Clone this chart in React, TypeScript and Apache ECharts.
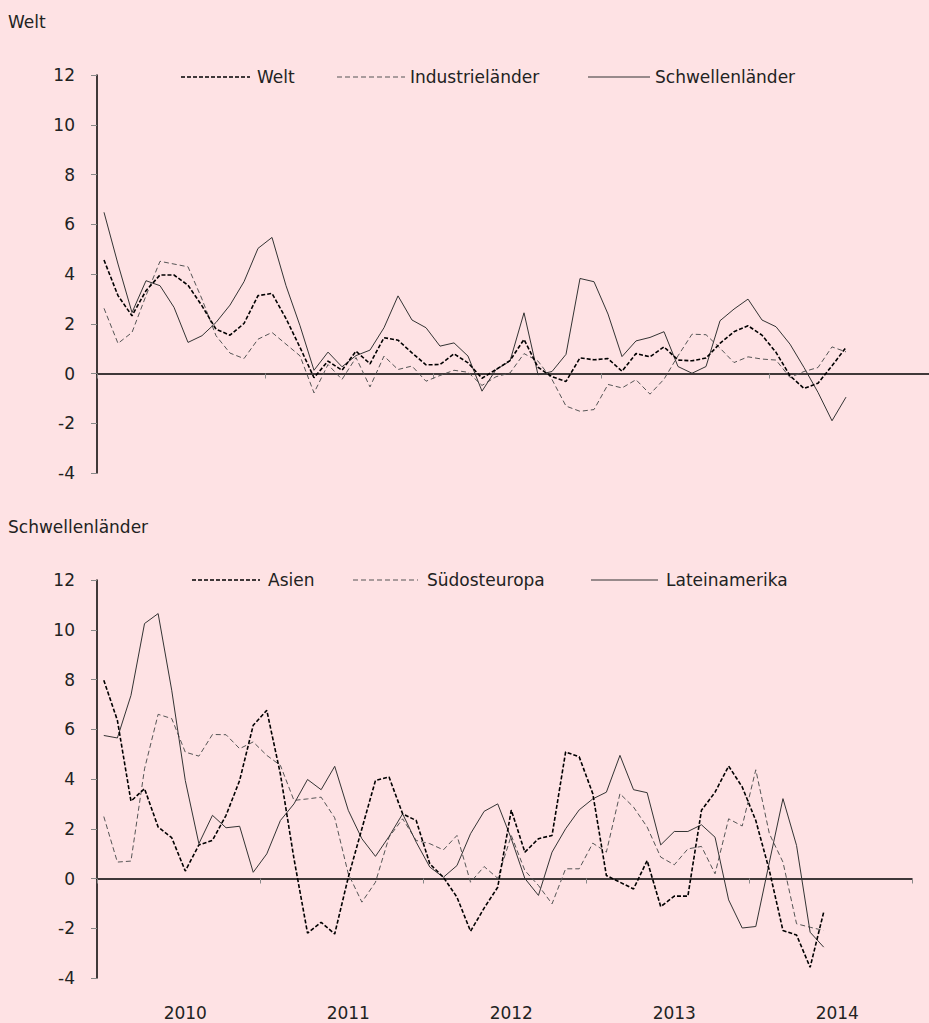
import React, { useEffect, useRef } from "react";
import * as echarts from "echarts";

const years = ["2010", "2011", "2012", "2013", "2014"];
const monthNames = ["01", "02", "03", "04", "05", "06", "07", "08", "09", "10", "11", "12"];
const months: string[] = years.flatMap((y) => monthNames.map((m) => `${y}-${m}`));

const yTicks = { min: -4, max: 12, step: 2 };

// Panel 1: Welt
const welt = [
  4.56, 3.13, 2.32, 3.33, 3.96, 3.96, 3.55, 2.72, 1.78, 1.54, 2.01, 3.13,
  3.22, 2.21, 1.05, -0.17, 0.5, 0.13, 0.9, 0.39, 1.44, 1.34, 0.83, 0.35,
  0.36, 0.79, 0.43, -0.19, 0.16, 0.52, 1.37, 0.25, -0.13, -0.32, 0.63, 0.55,
  0.6, 0.09, 0.8, 0.67, 1.07, 0.54, 0.51, 0.62, 1.21, 1.68, 1.92, 1.54,
  0.85, -0.09, -0.6, -0.39, 0.31, 1.05,
];
const industrielaender = [
  2.62, 1.21, 1.65, 3.13, 4.51, 4.4, 4.29, 2.99, 1.52, 0.82, 0.6, 1.38,
  1.65, 1.18, 0.71, -0.78, 0.36, -0.24, 0.64, -0.54, 0.7, 0.16, 0.3, -0.31,
  -0.08, 0.13, 0.05, -0.48, -0.13, 0.02, 0.8, 0.5, -0.24, -1.31, -1.52, -1.45,
  -0.44, -0.58, -0.25, -0.83, -0.23, 0.71, 1.58, 1.56, 1.02, 0.44, 0.67, 0.58,
  0.54, -0.16, 0.08, 0.24, 1.07, 0.87,
];
const schwellenlaender = [
  6.48, 4.4, 2.45, 3.73, 3.53, 2.66, 1.25, 1.52, 2.05, 2.75, 3.69, 5.03,
  5.47, 3.53, 1.92, 0.13, 0.86, 0.27, 0.72, 0.94, 1.84, 3.12, 2.15, 1.84,
  1.1, 1.23, 0.7, -0.71, 0.16, 0.5, 2.44, -0.05, 0.08, 0.77, 3.82, 3.69,
  2.39, 0.68, 1.31, 1.45, 1.68, 0.28, 0.01, 0.28, 2.12, 2.59, 2.99, 2.15,
  1.88, 1.18, 0.24, -0.76, -1.9, -0.95,
];

// Panel 2: Schwellenländer
const asien = [
  7.97, 6.36, 3.11, 3.61, 2.07, 1.64, 0.3, 1.35, 1.53, 2.54, 3.94, 6.16,
  6.76, 4.2, 0.8, -2.2, -1.76, -2.23, 0.05, 2.0, 3.94, 4.08, 2.6, 2.33,
  0.59, 0.05, -0.75, -2.12, -1.19, -0.35, 2.75, 1.06, 1.6, 1.73, 5.09, 4.89,
  3.41, 0.12, -0.15, -0.42, 0.72, -1.13, -0.71, -0.71, 2.74, 3.47, 4.52, 3.68,
  2.33, 0.32, -2.09, -2.27, -3.57, -1.35,
];
const suedosteuropa = [
  2.49, 0.66, 0.7, 4.41, 6.6, 6.43, 5.08, 4.92, 5.79, 5.78, 5.22, 5.49,
  4.95, 4.55, 3.14, 3.2, 3.27, 2.44, 0.19, -0.95, -0.15, 1.66, 2.4, 1.53,
  1.4, 1.15, 1.73, -0.15, 0.48, 0.01, 1.73, 0.32, -0.28, -1.02, 0.39, 0.39,
  1.42, 1.06, 3.41, 2.87, 2.07, 0.86, 0.55, 1.19, 1.29, 0.19, 2.4, 2.11,
  4.37, 1.8, 0.66, -1.82, -1.96, -2.09,
];
const lateinamerika = [
  5.75, 5.65, 7.36, 10.25, 10.65, 7.57, 3.94, 1.4, 2.54, 2.04, 2.1, 0.25,
  0.99, 2.33, 3.0, 3.98, 3.57, 4.51, 2.74, 1.6, 0.89, 1.69, 2.6, 1.46,
  0.46, 0.05, 0.52, 1.8, 2.7, 3.0, 1.6, 0.0, -0.68, 1.06, 2.0, 2.76,
  3.2, 3.47, 4.95, 3.57, 3.45, 1.35, 1.89, 1.89, 2.16, 1.66, -0.86, -1.99,
  -1.93, 0.66, 3.21, 1.33, -2.16, -2.76,
];

const FONT = "DejaVu Sans";
const TEXT = "#222";
const BG = "#fee2e4";

const styles = {
  dotted: { color: "#000", width: 1.6, type: [4, 2] as number[] },
  dashed: { color: "#555", width: 1, type: [5, 3] as number[] },
  solid: { color: "#333", width: 1, type: "solid" as const },
};

function xAxisFor(gridIndex: number, showLabels: boolean) {
  return {
    type: "category",
    gridIndex,
    data: months,
    boundaryGap: true,
    position: "bottom",
    axisLine: { show: true, onZero: true, lineStyle: { color: "#000", width: 1.5 } },
    axisTick: {
      show: true,
      interval: (i: number) => i % 12 === 0,
      length: 5,
      lineStyle: { color: "#888", width: 1 },
    },
    axisLabel: {
      show: showLabels,
      interval: (i: number) => i % 12 === 6,
      formatter: (v: string) => v.slice(0, 4),
      margin: 26,
      fontSize: 17,
      fontFamily: FONT,
      color: TEXT,
    },
    splitLine: { show: false },
  };
}

function yAxisFor(gridIndex: number) {
  return {
    type: "value",
    gridIndex,
    min: yTicks.min,
    max: yTicks.max,
    interval: yTicks.step,
    axisLine: { show: true, onZero: false, lineStyle: { color: "#000", width: 1.5 } },
    axisTick: { show: true, length: 6, lineStyle: { color: "#888", width: 1 } },
    axisLabel: { margin: 22, fontSize: 17, fontFamily: FONT, color: TEXT },
    splitLine: { show: false },
  };
}

function lineSeries(name: string, data: number[], st: any, idx: number) {
  return {
    name,
    type: "line",
    xAxisIndex: idx,
    yAxisIndex: idx,
    data,
    symbol: "none",
    lineStyle: { color: st.color, width: st.width, type: st.type },
    itemStyle: { color: st.color },
    z: st === styles.dotted ? 5 : 3,
  };
}

function legendItem(x1: number, x2: number, y: number, tx: number, label: string, st: any) {
  return [
    {
      type: "line",
      shape: { x1, y1: y, x2, y2: y },
      style: {
        stroke: st.color,
        lineWidth: st.width,
        lineDash: Array.isArray(st.type) ? st.type : null,
      },
    },
    {
      type: "text",
      x: tx,
      y,
      style: { text: label, fontSize: 17, fontFamily: FONT, fill: TEXT, verticalAlign: "middle" },
    },
  ];
}

export default function App() {
  const ref = useRef<HTMLDivElement>(null);
  useEffect(() => {
    document.body.style.margin = "0";
    document.body.style.background = BG;
    if (!ref.current) return;
    const chart = echarts.init(ref.current, null, { renderer: "svg" });
    chart.setOption({
      animation: false,
      backgroundColor: BG,
      grid: [
        { left: 97, top: 75, width: 840, height: 398, containLabel: false, outerBoundsMode: "none" },
        { left: 97, top: 580, width: 815, height: 398, containLabel: false, outerBoundsMode: "none" },
      ],
      xAxis: [xAxisFor(0, false), xAxisFor(1, true)],
      yAxis: [yAxisFor(0), yAxisFor(1)],
      series: [
        lineSeries("Welt", welt, styles.dotted, 0),
        lineSeries("Industrieländer", industrielaender, styles.dashed, 0),
        lineSeries("Schwellenländer", schwellenlaender, styles.solid, 0),
        lineSeries("Asien", asien, styles.dotted, 1),
        lineSeries("Südosteuropa", suedosteuropa, styles.dashed, 1),
        lineSeries("Lateinamerika", lateinamerika, styles.solid, 1),
      ],
      graphic: [
        { type: "text", x: 8, y: 22, style: { text: "Welt", fontSize: 17, fontFamily: FONT, fill: TEXT, verticalAlign: "middle" } },
        { type: "text", x: 8, y: 527, style: { text: "Schwellenländer", fontSize: 17, fontFamily: FONT, fill: TEXT, verticalAlign: "middle" } },
        ...legendItem(181, 250, 77, 257, "Welt", styles.dotted),
        ...legendItem(337, 405, 77, 410, "Industrieländer", styles.dashed),
        ...legendItem(588, 650, 77, 655, "Schwellenländer", styles.solid),
        ...legendItem(192, 260, 580, 268, "Asien", styles.dotted),
        ...legendItem(353, 418, 580, 427, "Südosteuropa", styles.dashed),
        ...legendItem(591, 658, 580, 666, "Lateinamerika", styles.solid),
      ],
    });
    return () => chart.dispose();
  }, []);
  return <div ref={ref} style={{ width: 929, height: 1023, position: "relative" }} />;
}
